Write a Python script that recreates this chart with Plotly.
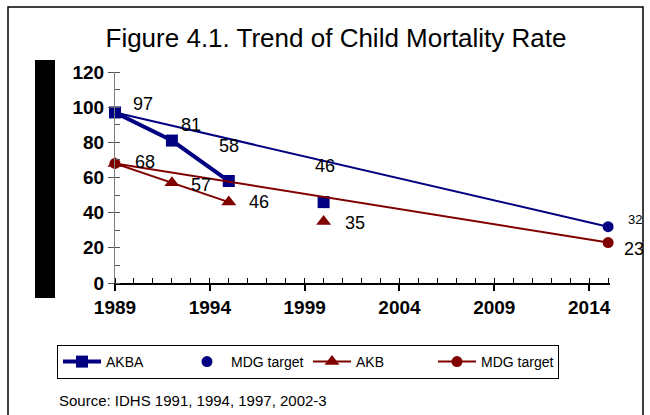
import plotly.graph_objects as go

# survey points (plotted years) and rates
years = [1989, 1992, 1995, 2000]
akba = [97, 81, 58, 46]
akb = [68, 57, 46, 35]

# MDG targets
mdg_years = [1989, 2015]
mdg_akba = [97, 32]
mdg_akb = [68, 23]

x_ticks = [1989, 1994, 1999, 2004, 2009, 2014]

NAVY = '#000080'
MAROON = '#800000'
FONT = 'Liberation Sans, Arial, sans-serif'

# plot area in window pixels (page body margin removed below)
W, H = 650, 415
L, R, T, B = 115, 40, 72, 132
PW, PH = W - L - R, H - T - B


def px(x):
    return (x - L) / PW


def py(y):
    return (H - B - y) / PH


fig = go.Figure()

# AKBA: line for first three surveys, last survey standalone
fig.add_trace(go.Scatter(x=years[:3], y=akba[:3], mode='lines+markers', name='AKBA',
                         line=dict(color=NAVY, width=4),
                         marker=dict(symbol='square', size=12, color=NAVY),
                         cliponaxis=False))
fig.add_trace(go.Scatter(x=mdg_years, y=mdg_akba, mode='lines', showlegend=False,
                         line=dict(color=NAVY, width=2), cliponaxis=False))
fig.add_trace(go.Scatter(x=mdg_years, y=mdg_akba, mode='markers', name='MDG target',
                         marker=dict(symbol='circle', size=11, color=NAVY),
                         cliponaxis=False))
fig.add_trace(go.Scatter(x=years[3:], y=akba[3:], mode='markers', showlegend=False,
                         marker=dict(symbol='square', size=12, color=NAVY),
                         cliponaxis=False))

# AKB
fig.add_trace(go.Scatter(x=years[:3], y=akb[:3], mode='lines+markers', name='AKB',
                         line=dict(color=MAROON, width=2),
                         marker=dict(symbol='triangle-up', size=13, color=MAROON),
                         cliponaxis=False))
fig.add_trace(go.Scatter(x=years[3:], y=akb[3:], mode='markers', showlegend=False,
                         marker=dict(symbol='triangle-up', size=13, color=MAROON),
                         cliponaxis=False))
fig.add_trace(go.Scatter(x=mdg_years, y=mdg_akb, mode='lines+markers', name='MDG target',
                         line=dict(color=MAROON, width=2),
                         marker=dict(symbol='circle', size=11, color=MAROON),
                         cliponaxis=False))

# data labels (pixel offsets from each point)
labels = []
akba_off = [(28, 8), (19, 16), (0, 35), (1, 36)]
akb_off = [(30, 1), (29, -2), (30, 0), (31, -2)]
for i, yr in enumerate(years):
    labels.append((yr, akba[i], akba_off[i], 18))
    labels.append((yr, akb[i], akb_off[i], 18))
labels.append((mdg_years[1], mdg_akba[1], (27, 7), 13))
labels.append((mdg_years[1], mdg_akb[1], (26, -6), 18))

annotations = []
for xv, yv, (dx, dy), fs in labels:
    annotations.append(dict(x=xv, y=yv, text=str(yv), showarrow=False,
                            xshift=dx, yshift=dy,
                            font=dict(family=FONT, size=fs, color='black')))

annotations.append(dict(x=px(57), y=py(400), xref='paper', yref='paper',
                        xanchor='left', yanchor='middle', showarrow=False,
                        text='Source: IDHS 1991, 1994, 1997, 2002-3',
                        font=dict(family=FONT, size=15, color='black')))

shapes = [
    # outer frame
    dict(type='rect', xref='paper', yref='paper',
         x0=px(8), x1=px(643), y0=py(430), y1=py(7),
         line=dict(color='black', width=1.5), fillcolor='rgba(0,0,0,0)'),
    # black bar at left
    dict(type='rect', xref='paper', yref='paper',
         x0=px(35), x1=px(55), y0=py(298), y1=py(60),
         line=dict(width=0), fillcolor='black'),
]

fig.update_layout(
    width=W, height=H,
    margin=dict(l=L, r=R, t=T, b=B),
    paper_bgcolor='white', plot_bgcolor='white',
    font=dict(family=FONT, color='black'),
    title=dict(text='Figure 4.1. Trend of Child Mortality Rate',
               x=336 / W, y=1 - 38 / H, xref='container', yref='container',
               xanchor='center', yanchor='middle',
               font=dict(family=FONT, size=26, color='black')),
    xaxis=dict(range=[1989, 2015.1], tickvals=x_ticks,
               showgrid=False, zeroline=False,
               showline=True, linecolor='black', linewidth=1.5,
               ticks='outside', ticklen=6, tickcolor='black', tickwidth=1.5,
               minor=dict(dtick=1, tick0=1989, ticks='inside', ticklen=5,
                          tickcolor='black', tickwidth=1, showgrid=False),
               tickfont=dict(family=FONT, size=19, color='black', weight='bold')),
    yaxis=dict(range=[0, 120], dtick=20,
               showgrid=False, zeroline=False,
               showline=True, linecolor='#808080', linewidth=1,
               ticks='outside', ticklen=6, tickcolor='#555555',
               minor=dict(dtick=10, ticks='inside', ticklen=5,
                          tickcolor='#555555', showgrid=False),
               tickfont=dict(family=FONT, size=19, color='black', weight='bold')),
    legend=dict(orientation='h', x=px(57), y=py(345), xanchor='left', yanchor='top',
                bordercolor='black', borderwidth=1, bgcolor='white',
                itemwidth=38, entrywidth=72, entrywidthmode='pixels',
                font=dict(family=FONT, size=14, color='black')),
    annotations=annotations,
    shapes=shapes,
)

fig.write_html('out.html', config=dict(displayModeBar=False),
               post_script="document.body.style.margin='0';"
                           "document.body.style.overflow='hidden';")
